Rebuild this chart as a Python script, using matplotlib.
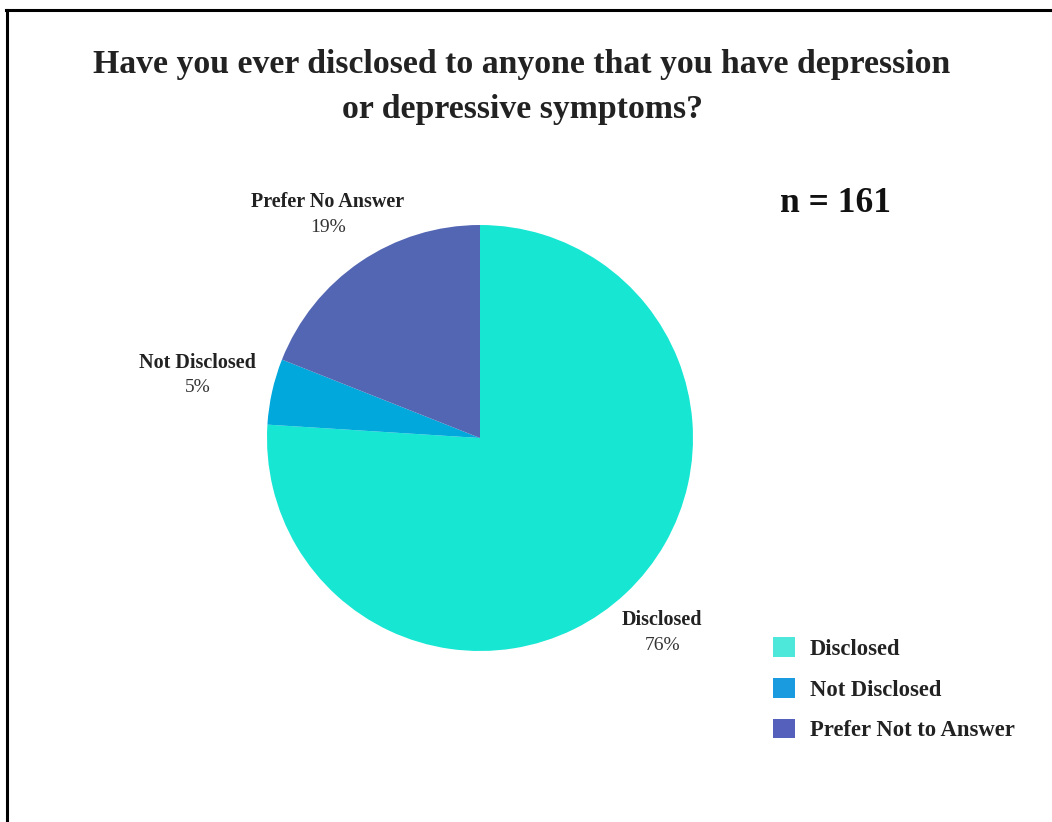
import numpy as np
import matplotlib
matplotlib.use("Agg")
import matplotlib.pyplot as plt
from matplotlib.patches import Patch
from matplotlib.lines import Line2D

labels = ["Disclosed", "Not Disclosed", "Prefer No Answer"]
shares = [76, 5, 19]
pie_colors = ["#17E6D3", "#00A8DC", "#5366B3"]
legend_labels = ["Disclosed", "Not Disclosed", "Prefer Not to Answer"]
legend_colors = ["#4DE8D9", "#1A9BDF", "#5560BC"]
label_dist = [1.25, 1.36, 1.27]
title = "Have you ever disclosed to anyone that you have depression\nor depressive symptoms?"
n_text = "n = 161"

plt.rcParams['font.family'] = ['Liberation Serif', 'DejaVu Serif']

W, H = 1052, 822
fig = plt.figure(figsize=(W / 100, H / 100), dpi=100)
ax = fig.add_axes([0, 0, 1, 1])

cx, cy, r = 480, H - 438, 213
wedges, _ = ax.pie(shares, colors=pie_colors, startangle=90, counterclock=False,
                   center=(cx, cy), radius=r, frame=True,
                   wedgeprops=dict(linewidth=0))
ax.set_xlim(0, W)
ax.set_ylim(0, H)
ax.set_aspect('equal')
ax.axis('off')

for w, lab, s, d in zip(wedges, labels, shares, label_dist):
    mid = np.deg2rad((w.theta1 + w.theta2) / 2)
    x = cx + d * r * np.cos(mid)
    y = cy + d * r * np.sin(mid)
    ax.text(x, y + 12, lab, ha='center', va='center', fontsize=14.5,
            fontweight='bold', color='#222222')
    ax.text(x, y - 13, f"{s}%", ha='center', va='center', fontsize=14,
            color='#333333')

fig.text(522 / W, 1 - 87 / H, title, ha='center', va='center', fontsize=24.3,
         fontweight='bold', color='#222222', linespacing=1.57)
fig.text(835 / W, 1 - 203 / H, n_text, ha='center', va='center', fontsize=25.5,
         fontweight='bold', color='#111111')

handles = [Patch(facecolor=c, edgecolor='none') for c in legend_colors]
fig.legend(handles, legend_labels, loc='upper left',
           bbox_to_anchor=(753 / W, 1 - 617 / H), frameon=False,
           prop=dict(size=16.3, weight='bold'), handlelength=0.95, handleheight=0.95,
           labelspacing=0.8, handletextpad=0.65, labelcolor='#222222')

# frame lines along top and left edge
fig.add_artist(Line2D([6 / W, 1], [1 - 10 / H, 1 - 10 / H], color='black', lw=2.2))
fig.add_artist(Line2D([7 / W, 7 / W], [0, 1 - 10 / H], color='black', lw=2.2))

fig.savefig("out.png", dpi=100)
